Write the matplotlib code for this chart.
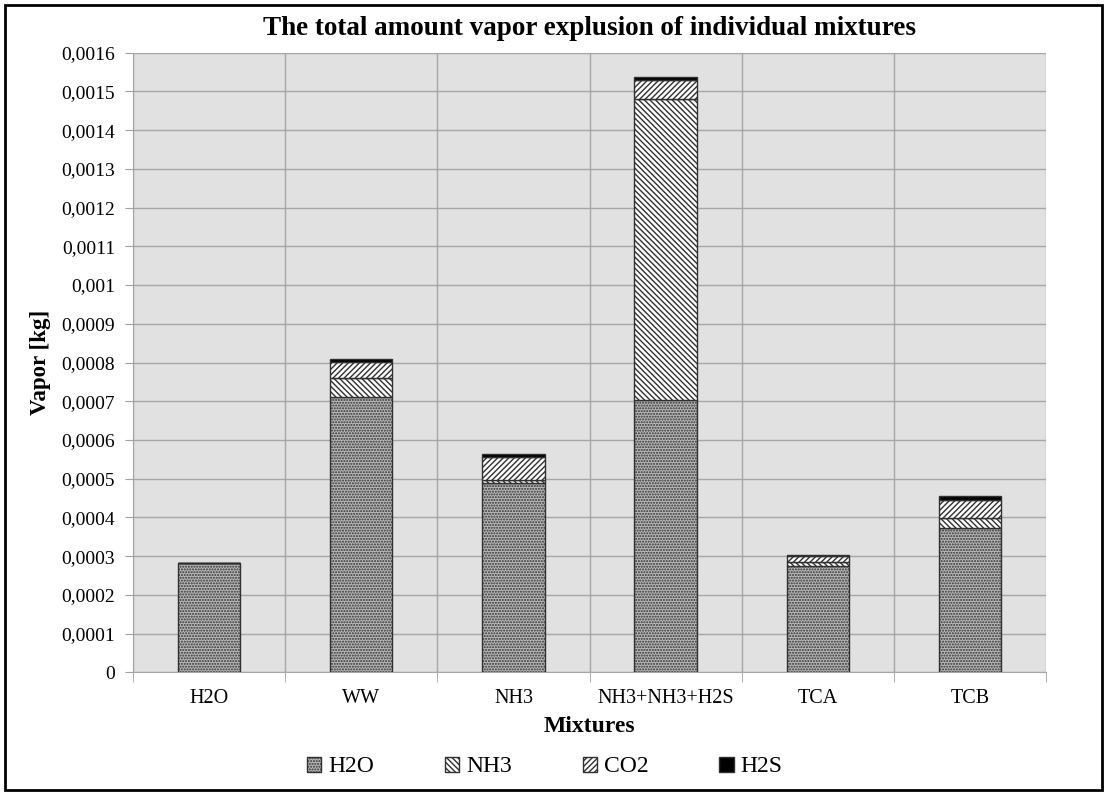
import numpy as np
import matplotlib
matplotlib.use("Agg")
import matplotlib.pyplot as plt
from matplotlib.ticker import FuncFormatter, MultipleLocator
from matplotlib.patches import Rectangle

plt.rcParams["font.family"] = ["Liberation Serif", "DejaVu Serif"]
plt.rcParams["hatch.linewidth"] = 1.0

# data (kg)
mixtures = ["H2O", "WW", "NH3", "NH3+NH3+H2S", "TCA", "TCB"]
h2o = [0.000283, 0.000711, 0.000488, 0.000704, 0.000274, 0.000373]
nh3 = [0.0, 0.000048, 0.000008, 0.000776, 0.000010, 0.000026]
co2 = [0.0, 0.000042, 0.000059, 0.000050, 0.000016, 0.000046]
h2s = [0.0, 0.000007, 0.000010, 0.000006, 0.000002, 0.000011]

series = [
    ("H2O", h2o, "#b8b8b8", "......"),
    ("NH3", nh3, "white", "\\\\\\\\\\\\"),
    ("CO2", co2, "white", "//////"),
    ("H2S", h2s, "black", None),
]

fig = plt.figure(figsize=(11.05, 7.92), dpi=100)
ax = fig.add_axes([0.1204, 0.151, 0.8262, 0.7825])
ax.set_facecolor("#e1e1e1")

x = np.arange(len(mixtures))
bottom = np.zeros(len(mixtures))
for name, vals, fc, hatch in series:
    vals = np.array(vals)
    ax.bar(x, vals, width=0.41, bottom=bottom, color=fc, edgecolor="#303030",
           hatch=hatch, linewidth=1.0, label=name, zorder=3)
    bottom += vals

ax.set_xlim(-0.5, len(mixtures) - 0.5)
ax.set_ylim(0, 0.0016)
ax.yaxis.set_major_locator(MultipleLocator(0.0001))
ax.yaxis.set_major_formatter(FuncFormatter(
    lambda v, p: "0" if abs(v) < 1e-9 else f"{v:.4f}".rstrip("0").replace(".", ",")))
ax.set_xticks(x)
ax.set_xticklabels(mixtures)
ax.set_xticks(np.arange(-0.5, len(mixtures)), minor=True)
ax.tick_params(axis="x", which="major", length=0, labelsize=14.5, pad=12)
ax.tick_params(axis="x", which="minor", length=7, color="#a0a0a0")
ax.tick_params(axis="y", length=6, color="#a0a0a0", labelsize=14, pad=7)

ax.grid(axis="y", color="#a6a6a6", linewidth=1.0, zorder=0)
ax.grid(axis="x", which="minor", color="#a6a6a6", linewidth=1.0, zorder=0)
for s in ax.spines.values():
    s.set_color("#a6a6a6")
ax.spines["top"].set_visible(False)
ax.spines["right"].set_visible(False)

ax.set_title("The total amount vapor explusion of individual mixtures",
             fontsize=19.5, fontweight="bold", pad=13)
ax.set_ylabel("Vapor [kg]", fontsize=16.5, fontweight="bold", labelpad=7)
ax.set_xlabel("Mixtures", fontsize=17, fontweight="bold", labelpad=6)

fig.legend(loc="center", bbox_to_anchor=(0.493, 1 - 767 / 792), ncol=4, frameon=False,
           fontsize=17, handlelength=0.6, handleheight=0.6, handletextpad=0.3,
           columnspacing=3.0)

fig.patches.append(Rectangle((5 / 1105, 2 / 792), 1097 / 1105, 785 / 792,
                             transform=fig.transFigure, fill=False,
                             edgecolor="black", linewidth=2))

fig.savefig("out.png", dpi=100)
